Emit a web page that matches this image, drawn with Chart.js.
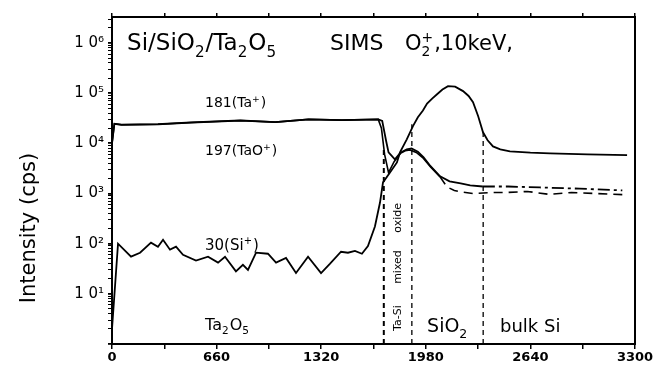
<!DOCTYPE html>
<html>
<head>
<meta charset="utf-8">
<script src="https://cdn.jsdelivr.net/npm/chart.js@4.4.0/dist/chart.umd.min.js"></script>
<style>
  html, body { margin: 0; padding: 0; background: #fff; }
</style>
</head>
<body>
<canvas id="simsChart" width="657" height="365"></canvas>
<script>
// depth axis (arbitrary units as in the original plot)
const xTicks = [0, 660, 1320, 1980, 2640, 3300];
const yDecades = [1, 2, 3, 4, 5, 6];

// 30(Si+)
const siX = [0, 38, 120, 177, 246, 290, 322, 366, 404, 448, 530, 606, 669, 713, 782, 826, 858, 909, 984, 1035,
  1098, 1161, 1237, 1319, 1376, 1445, 1489, 1533, 1577, 1615, 1659, 1691, 1710, 1754, 1798, 1817, 1860, 1899,
  1930, 1962, 1988, 2020, 2051, 2085, 2120, 2165, 2215, 2250, 2278, 2310, 2341, 2370, 2404, 2450, 2511, 2640,
  2764, 3000, 3250];
const siY = [2, 100, 55, 66, 105, 87, 120, 76, 87, 60, 46, 55, 42, 55, 28, 38, 30, 66, 63, 42,
  52, 26, 55, 26, 40, 69, 66, 72, 63, 90, 220, 660, 1660, 2630, 4170, 6600, 12000, 22000,
  33000, 45000, 62000, 78000, 95000, 118000, 138000, 135000, 110000, 88000, 66000, 35000, 16600, 11500, 8700, 7600, 6900, 6500,
  6300, 6000, 5800];

// 181(Ta+)
const taX = [0, 15, 60, 290, 500, 810, 1030, 1240, 1450, 1680, 1705, 1730, 1745, 1785, 1820, 1860, 1890, 1930,
  1965, 2010, 2070, 2130, 2200, 2260, 2340, 2500, 2700, 2950, 3220];
const taY = [10000, 24500, 23500, 24000, 26000, 28500, 26500, 30000, 29000, 30000, 28000, 11000, 6600, 4800, 6500, 7600, 7900, 6800,
  5300, 3500, 2200, 1750, 1600, 1450, 1380, 1380, 1320, 1250, 1150];

// 197(TaO+)
const taoX = [0, 15, 60, 290, 500, 810, 1030, 1240, 1450, 1680, 1700, 1720, 1745, 1780, 1820, 1850, 1880, 1920,
  1960, 2010, 2070, 2114, 2160, 2200, 2280, 2400, 2500, 2620, 2760, 2900, 3050, 3220];
const taoY = [10000, 24500, 23500, 24000, 26000, 28500, 26500, 30000, 29000, 30000, 20000, 6000, 2600, 4300, 6300, 7100, 7400, 6600,
  5200, 3400, 2150, 1350, 1150, 1080, 1000, 1050, 1050, 1100, 960, 1050, 1000, 950];

// layer boundaries
const boundaryX = [1715, 1892, 2342];
const boundaryTop = [7600, 24000, 16600];

const fam = '"DejaVu Sans", sans-serif';
const sup = { 0: '\u2070', 1: '\u00b9', 2: '\u00b2', 3: '\u00b3', 4: '\u2074', 5: '\u2075', 6: '\u2076' };

function pts(xs, ys) {
  return xs.map((x, i) => ({ x: x, y: ys[i] }));
}

function drawRich(ctx, x, y, parts, size, weight) {
  let cx = x;
  parts.forEach(p => {
    if (p.t) {
      ctx.font = `${weight} ${size}px ${fam}`;
      ctx.fillText(p.t, cx, y);
      cx += ctx.measureText(p.t).width;
    } else {
      const s = size * 0.66;
      ctx.font = `${weight} ${s}px ${fam}`;
      let w = 0;
      if (p.sub) {
        ctx.fillText(p.sub, cx, y + size * 0.28);
        w = ctx.measureText(p.sub).width;
      }
      if (p.sup) {
        ctx.fillText(p.sup, cx, y - size * 0.4);
        w = Math.max(w, ctx.measureText(p.sup).width);
      }
      cx += w + 1;
    }
  });
}

const textPlugin = {
  id: 'texts',
  afterDraw(chart) {
    const ctx = chart.ctx;
    const sx = chart.scales.x, sy = chart.scales.y;
    const px = v => sx.getPixelForValue(v);
    const py = v => sy.getPixelForValue(v);
    ctx.save();
    ctx.fillStyle = '#000';
    ctx.textBaseline = 'alphabetic';
    ctx.textAlign = 'left';

    drawRich(ctx, px(95), py(7.2e5), [{ t: 'Si/SiO' }, { sub: '2' }, { t: '/Ta' }, { sub: '2' }, { t: 'O' }, { sub: '5' }], 23, 'normal');
    drawRich(ctx, px(1376), py(7.2e5), [{ t: 'SIMS' }], 22, 'normal');
    drawRich(ctx, px(1849), py(7.2e5), [{ t: 'O' }, { sub: '2', sup: '+' }, { t: ',10keV,' }], 21, 'normal');

    drawRich(ctx, px(587), py(52000), [{ t: '181(Ta' }, { sup: '+' }, { t: ')' }], 14, 'normal');
    drawRich(ctx, px(587), py(5750), [{ t: '197(TaO' }, { sup: '+' }, { t: ')' }], 14, 'normal');
    drawRich(ctx, px(587), py(76), [{ t: '30(Si' }, { sup: '+' }, { t: ')' }], 15, 'normal');
    drawRich(ctx, px(587), py(1.9), [{ t: 'Ta' }, { sub: '2' }, { t: 'O' }, { sub: '5' }], 16, 'normal');
    drawRich(ctx, px(1988), py(1.7), [{ t: 'SiO' }, { sub: '2' }], 19, 'normal');
    drawRich(ctx, px(2448), py(1.7), [{ t: 'bulk Si' }], 18, 'normal');

    // rotated layer name
    ctx.font = `normal 11px ${fam}`;
    ctx.textBaseline = 'middle';
    [['Ta-Si', 1.82], ['mixed', 15.8], ['oxide', 166]].forEach(([t, v]) => {
      ctx.save();
      ctx.translate(px(1805), py(v));
      ctx.rotate(-Math.PI / 2);
      ctx.fillText(t, 0, 0);
      ctx.restore();
    });

    // y axis title
    ctx.font = `normal 21px ${fam}`;
    ctx.textAlign = 'center';
    ctx.save();
    ctx.translate(30, 228);
    ctx.rotate(-Math.PI / 2);
    ctx.fillText('Intensity (cps)', 0, 0);
    ctx.restore();
    ctx.restore();
  }
};

const datasets = [
  {
    label: '30(Si+)', data: pts(siX, siY), borderColor: '#000', borderWidth: 1.8,
    pointRadius: 0, tension: 0
  },
  {
    label: '181(Ta+)', data: pts(taX, taY), borderColor: '#000', borderWidth: 1.8,
    pointRadius: 0, tension: 0,
    segment: { borderDash: c => c.p0.parsed.x >= 2340 ? [12, 4, 3, 4] : undefined }
  },
  {
    label: '197(TaO+)', data: pts(taoX, taoY), borderColor: '#000', borderWidth: 1.6,
    pointRadius: 0, tension: 0,
    segment: { borderDash: c => c.p0.parsed.x >= 2070 ? [9, 6] : undefined }
  }
];

boundaryX.forEach((bx, i) => {
  datasets.push({
    label: 'boundary' + i,
    data: [{ x: bx, y: 1 }, { x: bx, y: boundaryTop[i] }],
    borderColor: '#000', borderWidth: i === 0 ? 2 : 1.3, borderDash: [5, 4],
    pointRadius: 0
  });
});

new Chart(document.getElementById('simsChart').getContext('2d'), {
  type: 'line',
  data: { datasets: datasets },
  options: {
    responsive: false,
    animation: false,
    layout: { padding: 0 },
    plugins: { legend: { display: false }, tooltip: { enabled: false } },
    scales: {
      x: {
        type: 'linear', position: 'bottom', min: 0, max: 3300,
        afterBuildTicks: s => {
          s.ticks = [];
          for (let v = 0; v <= 3300; v += 330) s.ticks.push({ value: v });
        },
        ticks: {
          autoSkip: false, maxRotation: 0, padding: 1, color: '#000',
          font: { family: fam, size: 13, weight: 'bold' },
          callback: v => xTicks.includes(v) ? String(v) : ''
        },
        grid: { drawOnChartArea: false, drawTicks: true, tickLength: 5, color: '#000', lineWidth: 1.5 },
        border: { color: '#000', width: 2 },
        afterFit: s => { s.height = 21; }
      },
      x2: {
        type: 'linear', position: 'top', min: 0, max: 3300,
        afterBuildTicks: s => {
          s.ticks = [];
          for (let v = 0; v <= 3300; v += 330) s.ticks.push({ value: v });
        },
        ticks: { callback: () => '' },
        grid: { drawOnChartArea: false, drawTicks: true, tickLength: 4, color: '#000', lineWidth: 1.5 },
        border: { color: '#000', width: 2 },
        afterFit: s => { s.height = 17; }
      },
      y: {
        type: 'logarithmic', min: 1, max: 3.3e6,
        afterBuildTicks: s => {
          s.ticks = [];
          for (let k = 0; k <= 6; k++) {
            for (let m = 1; m <= 9; m++) {
              const v = m * Math.pow(10, k);
              if (v <= 3.3e6) s.ticks.push({ value: v });
            }
          }
        },
        ticks: {
          autoSkip: false, padding: 4, color: '#000',
          font: { family: fam, size: 15 },
          callback: v => {
            const e = Math.round(Math.log10(v));
            return (Math.abs(v - Math.pow(10, e)) < 1e-6 && yDecades.includes(e)) ? '1 0' + sup[e] : '';
          }
        },
        grid: {
          drawOnChartArea: false, drawTicks: true, tickLength: 4, color: '#000',
          lineWidth: c => {
            const v = c.tick ? c.tick.value : 1;
            const e = Math.log10(v);
            return Math.abs(e - Math.round(e)) < 1e-9 ? 1.8 : 1;
          }
        },
        border: { color: '#000', width: 2 },
        afterFit: s => { s.width = 112; }
      },
      y2: {
        type: 'linear', position: 'right', min: 0, max: 1,
        ticks: { display: false },
        grid: { display: false },
        border: { color: '#000', width: 2 },
        afterFit: s => { s.width = 22; }
      }
    }
  },
  plugins: [textPlugin]
});
</script>
</body>
</html>
